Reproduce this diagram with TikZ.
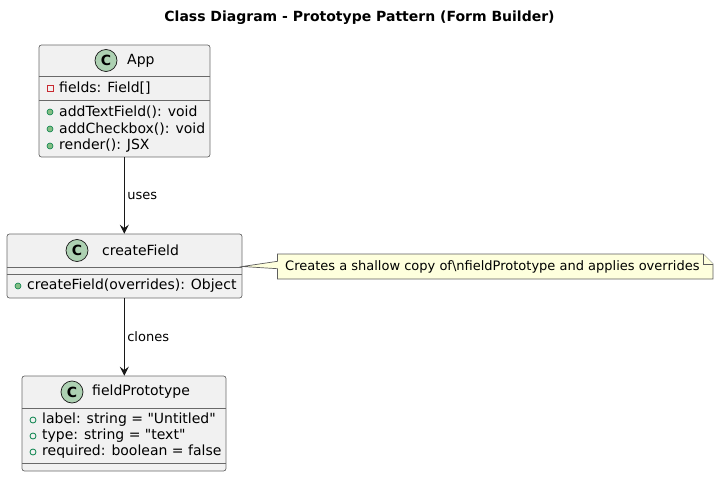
\documentclass[tikz,border=0pt]{standalone}
\usepackage{fontspec}
\setmainfont[Ligatures=TeXOff]{DejaVu Sans}
\usepackage{xcolor}
\usepackage{tikz}
\usetikzlibrary{positioning,calc,arrows.meta}

\definecolor{classfill}{HTML}{F1F1F1}
\definecolor{lineclr}{HTML}{181818}
\definecolor{spotfill}{HTML}{ADD1B2}
\definecolor{notefill}{HTML}{FEFFDD}
\definecolor{privclr}{HTML}{C82930}
\definecolor{pubclr}{HTML}{038048}
\definecolor{pubfill}{HTML}{84BE84}

\tikzset{
    privicon/.pic={\draw[privclr, line width=0.8pt] (-3,-3) rectangle (3,3);},
    pubmeth/.pic={\draw[pubclr, fill=pubfill, line width=0.6pt] (0,0) circle (3pt);},
    pubfield/.pic={\draw[pubclr, line width=0.8pt] (0,0) circle (3pt);}
}

\begin{document}
\begin{tikzpicture}[x=1pt, y=-1pt,
    classbox/.style={draw=lineclr!65, fill=classfill, rounded corners=2.5pt, line width=0.7pt, inner sep=0pt},
    divider/.style={draw=lineclr!65, line width=0.7pt},
    spot/.style={circle, draw=lineclr, fill=spotfill, minimum size=22pt, inner sep=0pt, line width=0.7pt, font=\fontsize{14}{14}\selectfont\bfseries},
    member/.style={anchor=west, inner sep=0pt, font=\fontsize{14}{16}\selectfont},
    link/.style={draw=lineclr, line width=1pt, -{Stealth[length=9pt, width=9pt, inset=3.5pt]}},
    linklabel/.style={right, inner sep=2.5pt, font=\fontsize{13}{15}\selectfont},
    notebox/.style={draw=lineclr!70, fill=notefill, line width=0.7pt}]
    \useasboundingbox (0,0) rectangle (719,478);

    % Title
    \node[font=\fontsize{14}{16}\selectfont\bfseries] (title) at (359.5,18) {Class Diagram - Prototype Pattern (Form Builder)};

    % App
    \node[classbox, minimum width=171pt, minimum height=112pt] (app) at (124.5,101) {};
    \draw[divider] (app.west |- 0,76) -- (app.east |- 0,76);
    \draw[divider] (app.west |- 0,100) -- (app.east |- 0,100);
    \node[spot] (appspot) at (106,60.5) {C};
    \node[member] (appname) at (127,60.5) {App};
    \pic at (50,88) {privicon};
    \node[member] (appf1) at (59,88) {fields: Field[]};
    \pic at (50,112) {pubmeth};
    \node[member] (appm1) at (59,112) {addTextField(): void};
    \pic at (50,129) {pubmeth};
    \node[member] (appm2) at (59,129) {addCheckbox(): void};
    \pic at (50,146) {pubmeth};
    \node[member] (appm3) at (59,146) {render(): JSX};

    % createField
    \node[classbox, minimum width=235pt, minimum height=64pt] (create) at (124.5,266) {};
    \draw[divider] (create.west |- 0,267) -- (create.east |- 0,267);
    \draw[divider] (create.west |- 0,274.5) -- (create.east |- 0,274.5);
    \node[spot] (createspot) at (77,250.5) {C};
    \node[member] (createname) at (102,250.5) {createField};
    \pic at (18,286) {pubmeth};
    \node[member] (createm1) at (27,286) {createField(overrides): Object};

    % fieldPrototype
    \node[classbox, minimum width=204pt, minimum height=95pt] (proto) at (124,423.5) {};
    \draw[divider] (proto.west |- 0,408) -- (proto.east |- 0,408);
    \draw[divider] (proto.west |- 0,463) -- (proto.east |- 0,463);
    \node[spot] (protospot) at (72,392) {C};
    \node[member] (protoname) at (92,392) {fieldPrototype};
    \pic at (33,420) {pubfield};
    \node[member] (protof1) at (42,420) {label: string = "Untitled"};
    \pic at (33,436) {pubfield};
    \node[member] (protof2) at (42,436) {type: string = "text"};
    \pic at (33,452) {pubfield};
    \node[member] (protof3) at (42,452) {required: boolean = false};

    % Links
    \draw[link] (app.south -| 124.3,0) -- node[linklabel] {uses} (create.north -| 124.3,0);
    \draw[link] (create.south -| 124.3,0) -- node[linklabel] {clones} (proto.north -| 124.3,0);

    % Note
    \coordinate (notetip) at (create.east |- 0,266.5);
    \draw[notebox] (277.5,254) -- (703,254) -- (713,264) -- (713,279) -- (277.5,279) -- (277.5,268.7) -- (notetip) -- (277.5,261.3) -- cycle;
    \draw[notebox] (703,254) -- (703,264) -- (713,264);
    \node[anchor=west, inner sep=0pt, font=\fontsize{13}{15}\selectfont] (notetext) at (285,266.5) {Creates a shallow copy of\textbackslash nfieldPrototype and applies overrides};
\end{tikzpicture}
\end{document}
